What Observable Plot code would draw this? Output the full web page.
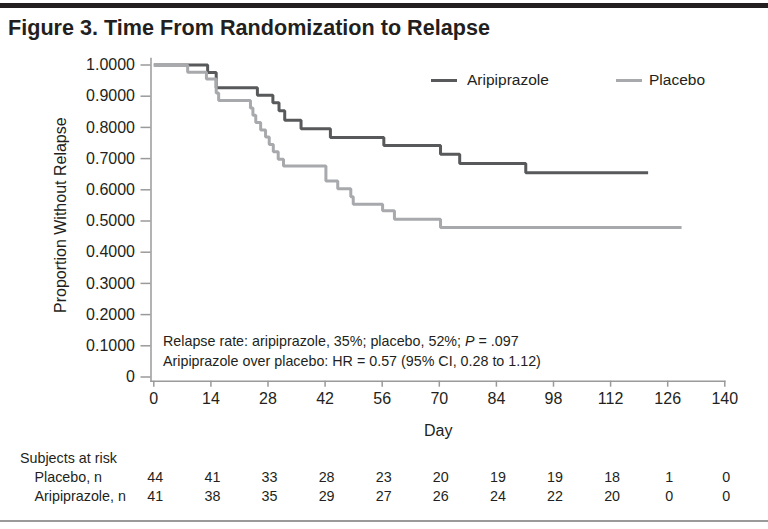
<!DOCTYPE html>
<html><head><meta charset="utf-8">
<script src="https://cdn.jsdelivr.net/npm/d3@7"></script>
<script src="https://cdn.jsdelivr.net/npm/@observablehq/plot@0.6"></script>
<style>
body{margin:0;background:#fff;}
#root{position:relative;width:768px;height:529px;overflow:hidden;font-family:"Liberation Sans",Arial,sans-serif;color:#231f20;background:#fff;}
.abs{position:absolute;white-space:nowrap;line-height:1;}
#root svg{position:absolute;left:0;}
</style></head><body><div id="root"></div>
<script>
// ---- data ----
const ariDays = [0, 13.2, 15.3, 25.4, 29.2, 30.7, 32.1, 36.1, 43.3, 56.4, 70.3, 75.0, 91.2, 121.2];
const ariSurv = [1, 0.976, 0.927, 0.903, 0.879, 0.853, 0.823, 0.796, 0.768, 0.742, 0.714, 0.684, 0.655, 0.655];
const plaDays = [0, 8.3, 12.9, 15.3, 15.9, 23.7, 24.3, 25.0, 26.2, 27.4, 28.3, 29.3, 30.5, 31.8, 42.2, 45.1, 48.3, 48.9, 56.1, 59.0, 70.3, 129.4];
const plaSurv = [1, 0.977, 0.955, 0.910, 0.886, 0.862, 0.839, 0.816, 0.792, 0.769, 0.745, 0.722, 0.698, 0.676, 0.628, 0.603, 0.578, 0.554, 0.533, 0.506, 0.479, 0.479];
const xTicks = [0, 14, 28, 42, 56, 70, 84, 98, 112, 126, 140];
const yTicks = [0, 0.1, 0.2, 0.3, 0.4, 0.5, 0.6, 0.7, 0.8, 0.9, 1];
const yTickLabels = ["0", "0.1000", "0.2000", "0.3000", "0.4000", "0.5000", "0.6000", "0.7000", "0.8000", "0.9000", "1.0000"];
const riskRows = ["Placebo, n", "Aripiprazole, n"];
const placeboAtRisk = [44, 41, 33, 28, 23, 20, 19, 19, 18, 1, 0];
const ariAtRisk = [41, 38, 35, 29, 27, 26, 24, 22, 20, 0, 0];
const seriesNames = ["Aripiprazole", "Placebo"];
const seriesColors = ["#58595b", "#a7a9ac"];

const ari = ariDays.map((d, i) => ({day: d, p: ariSurv[i]}));
const pla = plaDays.map((d, i) => ({day: d, p: plaSurv[i]}));
const risk = [];
xTicks.forEach((d, i) => {
  risk.push({day: d, row: riskRows[0], n: placeboAtRisk[i]});
  risk.push({day: d, row: riskRows[1], n: ariAtRisk[i]});
});

const root = document.getElementById("root");
const FONT = '"Liberation Sans", Arial, sans-serif';
const axisGray = "#9a9a9a";

function addText(txt, left, cy, size, opts = {}) {
  const el = document.createElement("div");
  el.className = "abs";
  if (opts.html) el.innerHTML = txt; else el.textContent = txt;
  el.style.left = left + "px";
  el.style.top = (cy - 0.49 * size) + "px";
  el.style.fontSize = size + "px";
  if (opts.bold) el.style.fontWeight = "bold";
  root.appendChild(el);
  return el;
}
function addBox(left, top, w, h, color) {
  const el = document.createElement("div");
  el.className = "abs";
  Object.assign(el.style, {left: left + "px", top: top + "px", width: w + "px", height: h + "px", background: color});
  root.appendChild(el);
}

// top bar, title, bottom rule
addBox(0, 3, 768, 5, "#231f20");
addText("Figure 3. Time From Randomization to Relapse", 8, 27.5, 21.6, {bold: true});
addBox(0, 520, 768, 2, "#9a9a9a");

// main chart
const TOP = 45;
const chart = Plot.plot({
  width: 768, height: 400,
  marginLeft: 150.5, marginRight: 43.7, marginTop: 13, marginBottom: 64.3,
  x: {domain: [0, 140], range: [153.3, 724.3]},
  y: {domain: [0, 1], range: [331.5, 19.5]},
  style: {fontFamily: FONT, fontSize: "16px", color: "#231f20", background: "transparent", overflow: "visible"},
  marks: [
    Plot.frame({anchor: "left", stroke: axisGray, strokeWidth: 1.5}),
    Plot.frame({anchor: "bottom", stroke: axisGray, strokeWidth: 1.5}),
    Plot.axisY({ticks: yTicks, tickFormat: d => yTickLabels[yTicks.indexOf(d)], tickSize: 10, tickPadding: 6, stroke: axisGray, strokeWidth: 1.5, label: null}),
    Plot.axisX({ticks: xTicks, tickFormat: d => String(d), tickSize: 6, tickPadding: 5, stroke: axisGray, strokeWidth: 1.5, label: null}),
    Plot.line(ari, {x: "day", y: "p", curve: "step-after", stroke: seriesColors[0], strokeWidth: 3, strokeLinecap: "butt", strokeLinejoin: "miter"}),
    Plot.line(pla, {x: "day", y: "p", curve: "step-after", stroke: seriesColors[1], strokeWidth: 3, strokeLinecap: "butt", strokeLinejoin: "miter"})
  ]
});
chart.style.top = TOP + "px";
root.appendChild(chart);

// axis titles
addText("Day", 424, 431, 16);
const yl = addText("Proportion Without Relapse", 0, 0, 16);
yl.style.transformOrigin = "0 0";
yl.style.left = "53px";
yl.style.top = "313px";
yl.style.transform = "rotate(-90deg)";

// legend
addBox(431, 78.5, 26, 3, seriesColors[0]);
addText(seriesNames[0], 467, 79.5, 15.5);
addBox(616, 78.5, 26, 3, seriesColors[1]);
addText(seriesNames[1], 649, 79.5, 15.5);

// annotation
addText("Relapse rate: aripiprazole, 35%; placebo, 52%; <i>P</i> = .097", 163, 341.5, 14.3, {html: true});
addText("Aripiprazole over placebo: HR = 0.57 (95% CI, 0.28 to 1.12)", 163, 361.5, 14.3);

// risk table
addText("Subjects at risk", 20, 458, 14.3);
addText(riskRows[0], 34.5, 477, 14.3);
addText(riskRows[1], 34.5, 496, 14.3);
const table = Plot.plot({
  width: 768, height: 60, margin: 0,
  x: {domain: [0, 140], range: [153.3, 724.3]},
  y: {type: "point", domain: riskRows, range: [29, 48], padding: 0},
  axis: null,
  style: {fontFamily: FONT, fontSize: "14.3px", color: "#231f20", background: "transparent", overflow: "visible"},
  marks: [Plot.text(risk, {x: "day", y: "row", text: "n", dx: 1.5, fill: "#231f20"})]
});
table.style.top = "448px";
root.appendChild(table);
</script></body></html>
